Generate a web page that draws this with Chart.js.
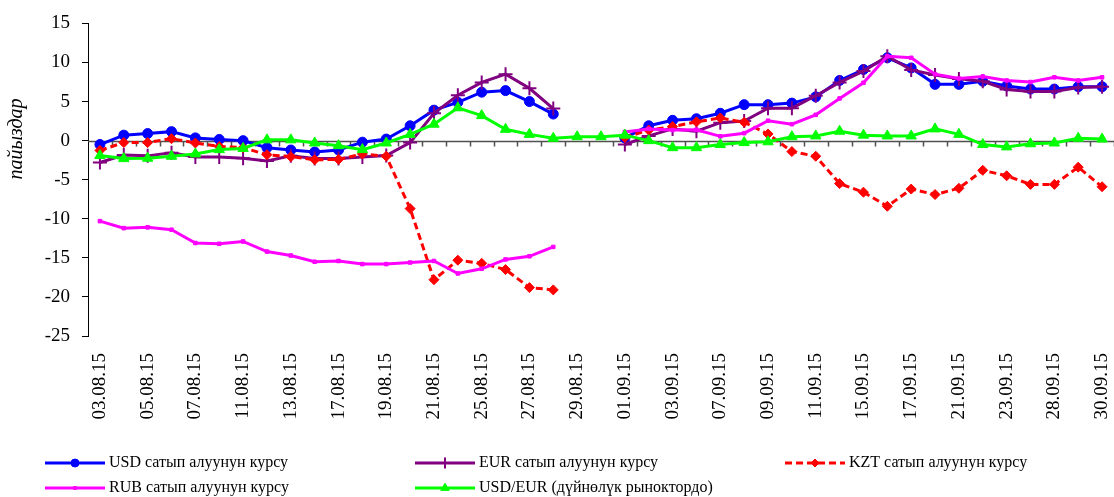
<!DOCTYPE html>
<html>
<head>
<meta charset="utf-8">
<script src="https://cdn.jsdelivr.net/npm/chart.js@4/dist/chart.umd.min.js"></script>
<style>
  html, body { margin: 0; padding: 0; background: #fff; }
  #wrap { width: 1114px; height: 497px; }
</style>
</head>
<body>
<div id="wrap"><canvas id="ratesChart" width="1114" height="497"></canvas></div>
<script>
/* ================================
   Data
================================ */
const dates = [
  "03.08.15", "04.08.15", "05.08.15", "06.08.15", "07.08.15", "10.08.15",
  "11.08.15", "12.08.15", "13.08.15", "14.08.15", "17.08.15", "18.08.15",
  "19.08.15", "20.08.15", "21.08.15", "24.08.15", "25.08.15", "26.08.15",
  "27.08.15", "28.08.15", "29.08.15", "31.08.15", "01.09.15", "02.09.15",
  "03.09.15", "04.09.15", "07.09.15", "08.09.15", "09.09.15", "10.09.15",
  "11.09.15", "14.09.15", "15.09.15", "16.09.15", "17.09.15", "18.09.15",
  "21.09.15", "22.09.15", "23.09.15", "25.09.15", "28.09.15", "29.09.15",
  "30.09.15"
];

const usdRate = [
  -0.5, 0.7, 0.9, 1.15, 0.35, 0.15, 0.0, -0.9, -1.2, -1.45, -1.2, -0.2,
  0.2, 1.9, 3.9, 4.9, 6.2, 6.4, 5.0, 3.4, null, null,
  0.35, 1.9, 2.6, 2.8, 3.5, 4.6, 4.6, 4.8, 5.6, 7.7, 9.1, 10.6, 9.3,
  7.2, 7.2, 7.6, 7.0, 6.6, 6.6, 6.9, 6.9
];

const eurRate = [
  -2.8, -1.85, -1.95, -1.55, -2.1, -2.1, -2.25, -2.6, -1.95, -2.3, -2.3, -2.1,
  -1.9, -0.25, 3.5, 5.8, 7.45, 8.5, 6.7, 4.1, null, null,
  -0.5, 0.6, 1.5, 1.2, 2.3, 2.5, 4.15, 4.15, 5.75, 7.45, 8.9, 10.8, 9.05,
  8.4, 7.9, 7.6, 6.55, 6.3, 6.3, 6.8, 6.9
];

const kztRate = [
  -1.25, -0.25, -0.25, 0.25, -0.3, -0.75, -0.9, -1.8, -2.05, -2.45, -2.4, -1.7,
  -2.0, -8.7, -17.8, -15.3, -15.7, -16.5, -18.8, -19.1, null, null,
  0.4, 1.35, 1.8, 2.4, 2.9, 2.35, 0.85, -1.4, -2.0, -5.5, -6.6, -8.4, -6.2,
  -6.9, -6.1, -3.8, -4.5, -5.6, -5.6, -3.4, -5.9
];

const rubRate = [
  -10.3, -11.2, -11.1, -11.4, -13.1, -13.2, -12.9, -14.2, -14.7, -15.5, -15.4, -15.8,
  -15.8, -15.6, -15.4, -17.0, -16.4, -15.2, -14.8, -13.6, null, null,
  1.1, 1.5, 1.35, 1.4, 0.55, 0.95, 2.55, 2.1, 3.3, 5.4, 7.4, 10.8, 10.6,
  8.5, 7.95, 8.2, 7.7, 7.5, 8.1, 7.7, 8.1
];

const usdEurWorld = [
  -1.9, -2.3, -2.25, -2.0, -1.7, -1.15, -1.0, 0.1, 0.1, -0.3, -0.65, -1.15,
  -0.3, 0.8, 2.1, 4.2, 3.2, 1.45, 0.8, 0.3, 0.5, 0.5,
  0.7, 0.0, -0.9, -0.9, -0.5, -0.25, -0.15, 0.5, 0.6, 1.2, 0.7, 0.6, 0.6,
  1.5, 0.8, -0.5, -0.8, -0.4, -0.3, 0.3, 0.2
];

const seriesNames = [
  "USD сатып алуунун курсу",
  "EUR сатып алуунун курсу",
  "KZT сатып алуунун курсу",
  "RUB сатып алуунун курсу",
  "USD/EUR (дүйнөлүк рыноктордо)"
];

const yTicks = [-25, -20, -15, -10, -5, 0, 5, 10, 15];
const yTitle = "пайыздар";

/* ================================
   Plugins
================================ */
const FONT = "'Liberation Serif', 'Times New Roman', serif";

// horizontal axis line through zero with small tick marks between days
const zeroAxisPlugin = {
  id: "zeroAxis",
  beforeDatasetsDraw(chart) {
    const { ctx, chartArea, scales } = chart;
    const y0 = Math.round(scales.y.getPixelForValue(0)) + 0.5;
    const xs = scales.x;
    const step = xs.getPixelForValue(1) - xs.getPixelForValue(0);
    const start = xs.getPixelForValue(0) - step / 2;

    ctx.save();
    ctx.strokeStyle = "#505050";
    ctx.lineWidth = 1.5;
    ctx.beginPath();
    ctx.moveTo(chartArea.left, y0);
    ctx.lineTo(chartArea.right, y0);
    for (let i = 1; i <= dates.length; i++) {
      const px = Math.round(start + i * step) + 0.5;
      ctx.moveTo(px, y0);
      ctx.lineTo(px, y0 + 5);
    }
    ctx.stroke();
    ctx.restore();
  }
};

// y title + legend grid under the chart
const extrasPlugin = {
  id: "extras",
  afterDraw(chart) {
    const { ctx } = chart;

    ctx.save();
    ctx.fillStyle = "#000";
    ctx.font = "italic 20px " + FONT;
    ctx.textAlign = "center";
    ctx.textBaseline = "middle";
    ctx.translate(17, 139);
    ctx.rotate(-Math.PI / 2);
    ctx.fillText(yTitle, 0, 0);
    ctx.restore();

    const cols = [45, 415, 785];
    const rows = [463, 488];

    chart.data.datasets.forEach((ds, i) => {
      const x = cols[i % 3];
      const y = rows[Math.floor(i / 3)];

      ctx.save();
      ctx.strokeStyle = ds.borderColor;
      ctx.fillStyle = ds.backgroundColor;
      ctx.lineWidth = ds.borderWidth;
      ctx.setLineDash(ds.borderDash || []);
      ctx.beginPath();
      ctx.moveTo(x, y);
      ctx.lineTo(x + 60, y);
      ctx.stroke();
      ctx.setLineDash([]);
      ctx.lineWidth = ds.pointBorderWidth || 1;
      Chart.helpers.drawPoint(ctx, {
        pointStyle: ds.pointStyle,
        radius: ds.pointRadius * 0.8,
        rotation: 0,
        borderWidth: ds.pointBorderWidth || 1
      }, x + 30, y);

      ctx.fillStyle = "#000";
      ctx.font = "16px " + FONT;
      ctx.textAlign = "left";
      ctx.textBaseline = "middle";
      ctx.fillText(ds.label, x + 64, y);
      ctx.restore();
    });
  }
};

/* ================================
   Chart
================================ */
function makeSeries(label, data, color, extra) {
  return Object.assign({
    label,
    data,
    borderColor: color,
    backgroundColor: color,
    borderWidth: 3,
    pointBorderColor: color,
    pointBackgroundColor: color,
    pointBorderWidth: 1,
    tension: 0,
    spanGaps: false
  }, extra);
}

const datasets = [
  makeSeries(seriesNames[0], usdRate, "#0000FF",
    { pointStyle: "circle", pointRadius: 5, order: 5 }),
  makeSeries(seriesNames[1], eurRate, "#800080",
    { pointStyle: "cross", pointRadius: 7, pointBorderWidth: 2, order: 4 }),
  makeSeries(seriesNames[2], kztRate, "#FF0000",
    { pointStyle: "rectRot", pointRadius: 5, borderDash: [7, 4], order: 3 }),
  makeSeries(seriesNames[3], rubRate, "#FF00FF",
    { pointStyle: "rect", pointRadius: 2.5, order: 2 }),
  makeSeries(seriesNames[4], usdEurWorld, "#00FF00",
    { pointStyle: "triangle", pointRadius: 6, order: 1 })
];

new Chart(document.getElementById("ratesChart"), {
  type: "line",
  data: { labels: dates, datasets },
  options: {
    responsive: false,
    animation: false,
    layout: {
      autoPadding: false,
      padding: { top: 19, right: 0, bottom: 66, left: 0 }
    },
    plugins: {
      legend: { display: false },
      tooltip: { enabled: false }
    },
    scales: {
      x: {
        type: "category",
        offset: true,
        grid: { display: false },
        border: { display: false },
        ticks: {
          autoSkip: false,
          minRotation: 90,
          maxRotation: 90,
          padding: 9,
          color: "#000",
          font: { family: FONT, size: 19 },
          callback: (v, i) => (i % 2 === 0 ? dates[i] : "")
        },
        afterFit: scale => {
          scale.height = 95;
          scale.paddingLeft = 0;
          scale.paddingRight = 0;
        }
      },
      y: {
        min: yTicks[0],
        max: yTicks[yTicks.length - 1],
        afterBuildTicks: scale => {
          scale.ticks = yTicks.map(v => ({ value: v }));
        },
        grid: {
          drawOnChartArea: false,
          drawTicks: true,
          tickLength: 6,
          tickColor: "#000"
        },
        border: { display: true, color: "#000", width: 1 },
        ticks: {
          padding: 12,
          color: "#000",
          font: { family: FONT, size: 19 }
        },
        afterFit: scale => { scale.width = 88; }
      }
    }
  },
  plugins: [zeroAxisPlugin, extrasPlugin]
});
</script>
</body>
</html>
